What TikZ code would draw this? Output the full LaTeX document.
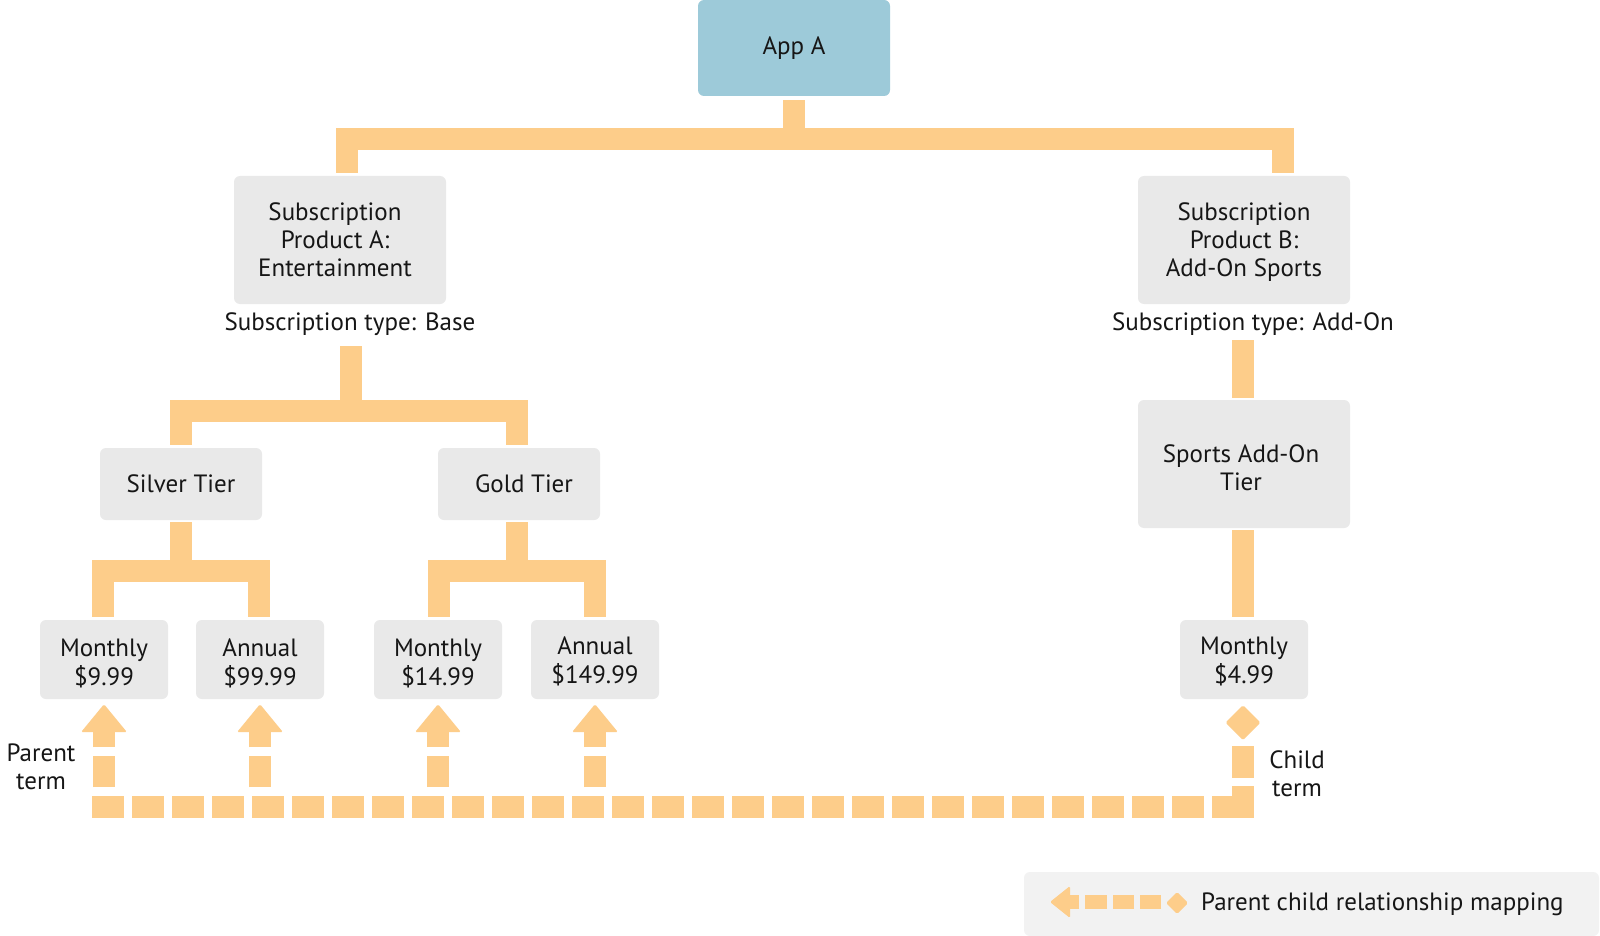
\documentclass[tikz,border=0pt]{standalone}
\usepackage{fontspec}
\setmainfont{PT Sans}
\usetikzlibrary{calc}
\definecolor{conn}{HTML}{FDCD8A}
\definecolor{boxgray}{HTML}{E9E9E9}
\definecolor{appblue}{HTML}{9DCAD9}
\definecolor{leggray}{HTML}{F2F2F2}
\definecolor{txt}{HTML}{161616}
\newcommand\mlines[2]{\raisebox{#1}[\height][\depth]{\begin{tabular}{@{}c@{}}#2\end{tabular}}}
\tikzset{
  lbl/.style={font=\fontsize{25}{28}\selectfont, text=txt, inner sep=0pt, align=center},
  box/.style={lbl, fill=boxgray, rounded corners=6pt},
  tree/.style={draw=conn, line width=22pt},
  parentline/.style={draw=conn, line width=22pt, dash pattern=on 31pt off 9pt on 100pt off 20pt, dash phase=140pt},
  busline/.style={draw=conn, line width=22pt, dash pattern=on 32pt off 8pt on 52pt
    off 8pt on 32pt off 8pt on 32pt off 8pt on 32pt off 8pt on 32pt
    off 8pt on 32pt off 8pt on 32pt off 8pt on 32pt off 8pt on 32pt
    off 8pt on 32pt off 8pt on 32pt off 8pt on 32pt off 8pt on 32pt
    off 8pt on 32pt off 8pt on 32pt off 8pt on 32pt off 8pt on 32pt
    off 8pt on 32pt off 8pt on 32pt off 8pt on 32pt off 8pt on 32pt
    off 8pt on 32pt off 8pt on 32pt off 8pt on 32pt off 8pt on 32pt
    off 8pt on 32pt off 8pt on 32pt off 8pt on 32pt off 8pt on 32pt},
  headfill/.style={fill=conn, rounded corners=1.5pt}
}
\begin{document}
\begin{tikzpicture}[x=1pt,y=-1pt]
\useasboundingbox (0,0) rectangle (1600,936);
\fill[white] (0,0) rectangle (1600,936);

% nodes
\node[box, fill=appblue, minimum width=192pt, minimum height=96pt] (appA) at (794,48) {\raisebox{3pt}{App A}};
\node[box, minimum width=212pt, minimum height=128pt] (prodA) at (340,240) {\mlines{-3pt}{Subscription\\Product A:\\Entertainment}\hspace*{10pt}};
\node[box, minimum width=212pt, minimum height=128pt] (prodB) at (1244,240) {\mlines{-3pt}{Subscription\\Product B:\\Add-On Sports}};
\node[lbl, anchor=base] (typeA) at (350,330) {Subscription type: Base};
\node[lbl, anchor=base] (typeB) at (1253,330) {Subscription type: Add-On};
\node[box, minimum width=162pt, minimum height=72pt] (silver) at (181,484) {Silver Tier};
\node[box, minimum width=162pt, minimum height=72pt] (gold) at (519,484) {\hspace*{10pt}Gold Tier};
\node[box, minimum width=212pt, minimum height=128pt] (sports) at (1244,464) {\mlines{-7pt}{Sports Add-On\\Tier}\hspace*{6pt}};
\node[box, minimum width=128pt, minimum height=79pt] (m999) at (104,659.5) {\mlines{-6pt}{Monthly\\\$9.99}};
\node[box, minimum width=128pt, minimum height=79pt] (a9999) at (260,659.5) {\mlines{-6pt}{Annual\\\$99.99}};
\node[box, minimum width=128pt, minimum height=79pt] (m1499) at (438,659.5) {\mlines{-6pt}{Monthly\\\$14.99}};
\node[box, minimum width=128pt, minimum height=79pt] (a14999) at (595,659.5) {\mlines{-4pt}{Annual\\\$149.99}};
\node[box, minimum width=128pt, minimum height=79pt] (m499) at (1244,659.5) {\mlines{-4pt}{Monthly\\\$4.99}};
\node[lbl] (pterm) at (41,766.5) {Parent\\term};
\node[lbl] (cterm) at (1297,774) {Child\\term};

% tree connectors
\draw[tree] ([yshift=-4pt]appA.south) -- ++(0,39);
\draw[tree] ([xshift=7pt,yshift=3pt]prodA.north) -- ++(0,-34) -| ([xshift=39pt,yshift=3pt]prodB.north);
\draw[tree] ([xshift=11pt,yshift=-42pt]prodA.south) -- ++(0,65);
\draw[tree] ([yshift=3pt]silver.north) -- ++(0,-34) -| ([xshift=-2pt,yshift=3pt]gold.north);
\draw[tree] ([yshift=-2pt]silver.south) -- ++(0,49);
\draw[tree] ([xshift=-1pt,yshift=3pt]m999.north) -- ++(0,-46) -| ([xshift=-1pt,yshift=3pt]a9999.north);
\draw[tree] ([xshift=-2pt,yshift=-2pt]gold.south) -- ++(0,49);
\draw[tree] ([xshift=1pt,yshift=3pt]m1499.north) -- ++(0,-46) -| ([yshift=3pt]a14999.north);
\draw[tree] ([xshift=-1pt,yshift=-36pt]prodB.south) -- ([xshift=-1pt,yshift=2pt]sports.north);
\draw[tree] ([xshift=-1pt,yshift=-2pt]sports.south) -- ([xshift=-1pt,yshift=3pt]m499.north);

% parent-child mapping
\coordinate (busend) at (92,807);
\fill[headfill] ([xshift=-1pt,yshift=-6pt]m499.south) -- ++(17.5,17.5) -- ++(-17.5,17.5) -- ++(-17.5,-17.5) -- cycle;
\draw[busline] ([xshift=-1pt,yshift=-47pt]m499.south) |- (busend);
\foreach \n in {m999,a9999,m1499,a14999} {
  \draw[parentline] (\n.south |- busend) -- ([yshift=-33pt]\n.south);
  \fill[headfill] ([yshift=-5pt]\n.south) -- ++(23,28) -- ++(-46,0) -- cycle;
}

% legend
\node[fill=leggray, rounded corners=6pt, minimum width=575pt, minimum height=64pt, inner sep=0pt] (legend) at (1311.5,904) {};
\node[lbl, anchor=base west] (legtext) at (1201,910.5) {Parent child relationship mapping};
\fill[headfill] (1177,892) -- (1188,903) -- (1177,914) -- (1166,903) -- cycle;
\draw[conn, line width=14pt, dash pattern=on 21pt off 6pt on 21pt off 6pt on 22pt off 6pt on 20pt] (1161,902) -- (1070,902);
\fill[headfill] (1050,902) -- (1070,886) -- (1070,918) -- cycle;
\end{tikzpicture}
\end{document}
